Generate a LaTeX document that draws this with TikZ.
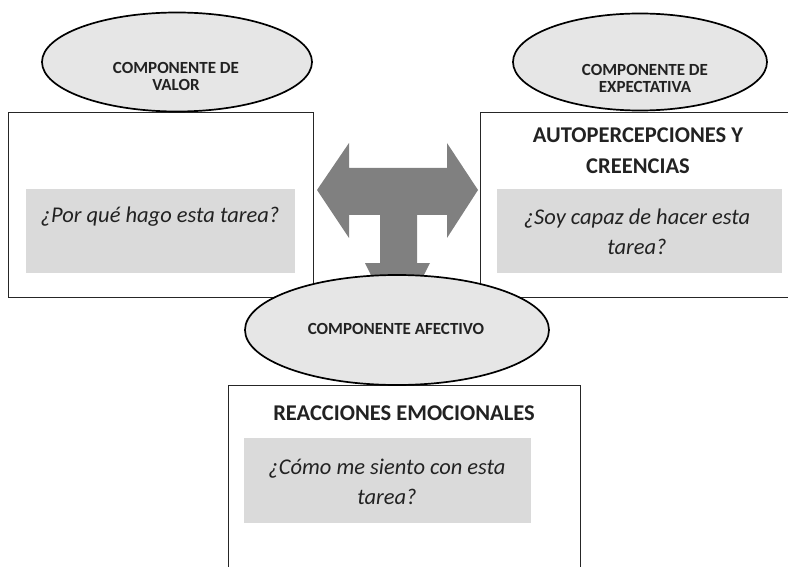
\documentclass[tikz,border=0pt]{standalone}
\usepackage{fontspec}
\setmainfont{Carlito}
\usetikzlibrary{shapes.geometric}

\definecolor{ellgray}{HTML}{E6E6E6}
\definecolor{qgray}{HTML}{DADADA}
\definecolor{arrowgray}{HTML}{808080}
\definecolor{inkgray}{HTML}{222222}

\begin{document}
\begin{tikzpicture}[x=1pt, y=-1pt,
    outerbox/.style={draw=black!85, line width=1.4pt, fill=white, inner sep=0pt, anchor=north west},
    qbox/.style={fill=qgray, inner sep=0pt, anchor=north west},
    qtext/.style={text=inkgray, align=center, font=\fontsize{22.5}{30}\selectfont\itshape},
    headtext/.style={text=inkgray, align=center, font=\fontsize{22.5}{31}\selectfont\bfseries},
    compell/.style={ellipse, draw=black, line width=1.7pt, fill=ellgray, inner sep=0pt},
    comptext/.style={text=inkgray, align=center, font=\fontsize{17}{17}\selectfont\bfseries}]
    \useasboundingbox (0,0) rectangle (788,567);

    % boxes
    \node[outerbox, minimum width=305pt, minimum height=185pt] (valbox) at (8,112) {};
    \node[outerbox, minimum width=316pt, minimum height=185pt] (expbox) at (480,112) {};
    \node[outerbox, minimum width=352pt, minimum height=200pt] (afebox) at (228,385) {};

    \node[qbox, minimum width=269pt, minimum height=84pt] (valq) at (26,189) {};
    \node[qbox, minimum width=285pt, minimum height=84pt] (expq) at (497,189) {};
    \node[qbox, minimum width=287pt, minimum height=85pt] (afeq) at (244,438) {};

    % texts
    \node[qtext] (valqt) at (160,217) {¿Por qué hago esta tarea?};
    \node[headtext] (exphead) at (638,151) {AUTOPERCEPCIONES Y\\CREENCIAS};
    \node[qtext] (expqt) at (637,232) {¿Soy capaz de hacer esta\\tarea?};
    \node[headtext] (afehead) at (404,413) {REACCIONES EMOCIONALES};
    \node[qtext] (afeqt) at (387,482) {¿Cómo me siento con esta\\tarea?};

    % block arrow
    \fill[arrowgray] (317,190) -- (349,143) -- (349,168) -- (447,168) -- (447,143)
        -- (478,190) -- (447,238) -- (447,215) -- (417,215) -- (417,263) -- (430,263)
        -- (397,328) -- (365,263) -- (380,263) -- (380,215) -- (349,215) -- (349,238) -- cycle;

    % components
    \node[compell, minimum width=270pt, minimum height=99pt] (valell) at (177,62) {};
    \node[compell, minimum width=254pt, minimum height=97pt] (expell) at (640,62) {};
    \node[compell, minimum width=304pt, minimum height=110pt] (afeell) at (397,330) {};

    \node[comptext] (valtxt) at (176,76) {COMPONENTE DE\\VALOR};
    \node[comptext] (exptxt) at (645,78) {COMPONENTE DE\\EXPECTATIVA};
    \node[comptext] (afetxt) at (396,329) {COMPONENTE AFECTIVO};
\end{tikzpicture}
\end{document}
